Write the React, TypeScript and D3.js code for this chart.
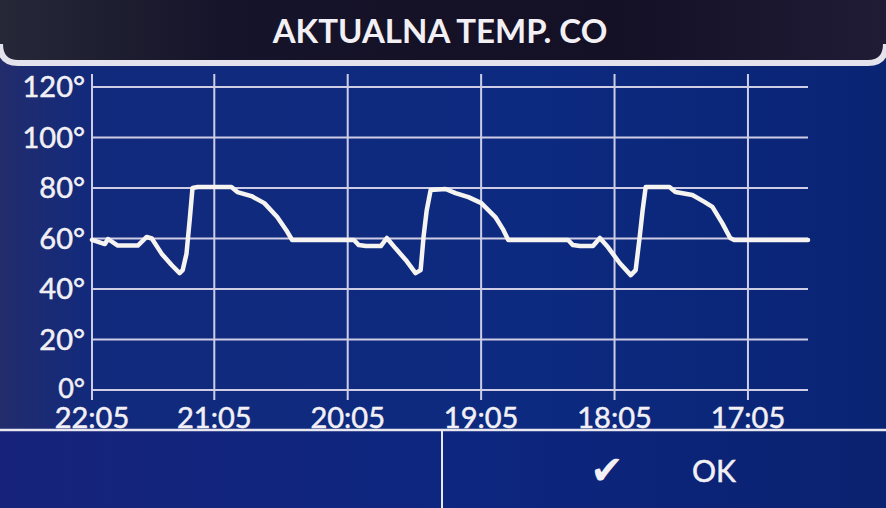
import React from "react";
import * as d3 from "d3";

const title = "AKTUALNA TEMP. CO";
const yTicks = [0, 20, 40, 60, 80, 100, 120];
const xTickMinutes = [0, 55, 115, 175, 235, 295];
const xTickLabels = ["22:05", "21:05", "20:05", "19:05", "18:05", "17:05"];

// minutes before the newest sample (left edge = newest)
const minutesAgo = [
  0, 5.8, 7.2, 11.6, 20.6, 24.6, 26.9, 31.3, 35.8, 39.4, 40.8, 42.5, 43.9, 45.2, 47.5,
  62.7, 65.4, 71.7, 77.5, 83.3, 87.3, 90, 117.8, 120, 123.2, 129.9, 132.6, 136.6,
  141.1, 145.5, 147.8, 149.1, 150.5, 152.3, 159, 163.5, 169.3, 175.1, 181.4, 185,
  187.2, 214.1, 216.3, 219.4, 225.3, 228.4, 232, 237.3, 242.3, 244.5, 246.3, 247.6,
  249, 259.7, 262.4, 270, 275.4, 279, 283.5, 287, 288.8, 322,
];
const temps = [
  59.5, 57.8, 59.8, 57.2, 57.2, 60.6, 60, 54, 49.5, 46.3, 47.5, 54, 67, 80, 80.4,
  80.4, 78.4, 76.8, 74, 68.5, 63.4, 59.4, 59.4, 57.4, 57, 57, 60.2, 56,
  51.5, 46.3, 47.5, 60.6, 71, 79.2, 79.6, 78, 76.4, 74, 68.5, 63.4,
  59.4, 59.4, 57.4, 57, 57, 60.2, 56.6, 50.3, 45.5, 47.5, 60.6, 71,
  80.4, 80.4, 78.4, 77.2, 74.5, 72.5, 66, 60.2, 59.4, 59.4,
];
const okLabel = "OK";
const checkMark = "✔";

const W = 886;
const H = 508;

export default function App() {
  const x = d3.scaleLinear().domain([0, 322]).range([92, 808]);
  const y = d3.scaleLinear().domain([0, 120]).range([390, 87]);
  const pts: [number, number][] = minutesAgo.map((m, i) => [m, temps[i]]);
  const line = d3
    .line<[number, number]>()
    .x((d) => x(d[0]))
    .y((d) => y(d[1]));
  const font = "Lato, 'Open Sans', sans-serif";
  const txt = "#f2f0f4";
  const grid = "#cfcde6";

  return (
    <svg
      width={W}
      height={H}
      viewBox={`0 0 ${W} ${H}`}
      style={{ position: "fixed", left: 0, top: 0, display: "block" }}
    >
      <defs>
        <linearGradient id="bg" x1="0" x2="1" y1="0" y2="0">
          <stop offset="0" stopColor="#232c6c" />
          <stop offset="0.1" stopColor="#122a7c" />
          <stop offset="0.6" stopColor="#0c2a80" />
          <stop offset="1" stopColor="#0a2474" />
        </linearGradient>
        <linearGradient id="hdr" x1="0" x2="1" y1="0" y2="0">
          <stop offset="0" stopColor="#262838" />
          <stop offset="0.25" stopColor="#16142a" />
          <stop offset="0.7" stopColor="#141026" />
          <stop offset="1" stopColor="#201c36" />
        </linearGradient>
        <radialGradient id="glare" cx="0.5" cy="1" r="0.6">
          <stop offset="0" stopColor="#6a6cb0" stopOpacity="0.8" />
          <stop offset="1" stopColor="#6a6cb0" stopOpacity="0" />
        </radialGradient>
        <linearGradient id="bottom" x1="0" x2="1" y1="0" y2="0">
          <stop offset="0" stopColor="#17237a" />
          <stop offset="0.5" stopColor="#0d2680" />
          <stop offset="1" stopColor="#0b2270" />
        </linearGradient>
      </defs>

      <rect x={0} y={0} width={W} height={H} fill="url(#bg)" />
      <rect x={0} y={430} width={W} height={78} fill="url(#bottom)" />
      <ellipse cx={250} cy={525} rx={170} ry={95} fill="url(#glare)" />

      {/* header */}
      <path
        d={`M0,0 L${W},0 L${W},44 Q${W},63 ${W - 18},63 L18,63 Q0,63 0,44 Z`}
        fill="url(#hdr)"
      />
      <path
        d={`M0,44 Q0,63 18,63 L${W - 18},63 Q${W},63 ${W},44`}
        fill="none"
        stroke="#e4e2ec"
        strokeWidth={6}
      />
      <text
        x={440}
        y={43}
        textAnchor="middle"
        fill={txt}
        fontFamily={font}
        fontWeight={700}
        fontSize={33}
      >
        {title}
      </text>

      {/* grid */}
      {yTicks.map((t) => (
        <line
          key={"h" + t}
          x1={x(0)}
          x2={x(322)}
          y1={y(t)}
          y2={y(t)}
          stroke={grid}
          strokeWidth={2}
        />
      ))}
      {xTickMinutes.map((m) => (
        <line
          key={"v" + m}
          x1={x(m)}
          x2={x(m)}
          y1={74}
          y2={400}
          stroke={grid}
          strokeWidth={2}
        />
      ))}

      {/* y labels */}
      {yTicks.map((t) => (
        <text
          key={"yl" + t}
          x={85}
          y={y(t)}
          dy={t === 0 ? "0.3em" : "0.36em"}
          textAnchor="end"
          fill={txt}
          stroke={txt}
          strokeWidth={0.5}
          fontFamily={font}
          fontSize={t === 0 ? 27 : 29}
        >
          {t + "°"}
        </text>
      ))}

      {/* x labels */}
      {xTickMinutes.map((m, i) => (
        <text
          key={"xl" + m}
          x={x(m)}
          y={428}
          textAnchor="middle"
          fill={txt}
          stroke={txt}
          strokeWidth={0.5}
          fontFamily={font}
          fontSize={29}
        >
          {xTickLabels[i]}
        </text>
      ))}

      {/* series */}
      <path
        d={line(pts) || ""}
        fill="none"
        stroke="#f6f4f0"
        strokeWidth={4.5}
        strokeLinejoin="round"
        strokeLinecap="round"
      />

      {/* bottom bar */}
      <line x1={0} x2={W} y1={430} y2={430} stroke="#e8e6ee" strokeWidth={2.5} />
      <line x1={442} x2={442} y1={430} y2={H} stroke="#e8e6ee" strokeWidth={2} />
      <text
        x={607}
        y={484}
        textAnchor="middle"
        fill={txt}
        fontFamily="'DejaVu Sans', sans-serif"
        fontSize={40}
      >
        {checkMark}
      </text>
      <text
        x={692}
        y={482}
        fill={txt}
        stroke={txt}
        strokeWidth={0.5}
        fontFamily={font}
        fontSize={30}
      >
        {okLabel}
      </text>
    </svg>
  );
}
